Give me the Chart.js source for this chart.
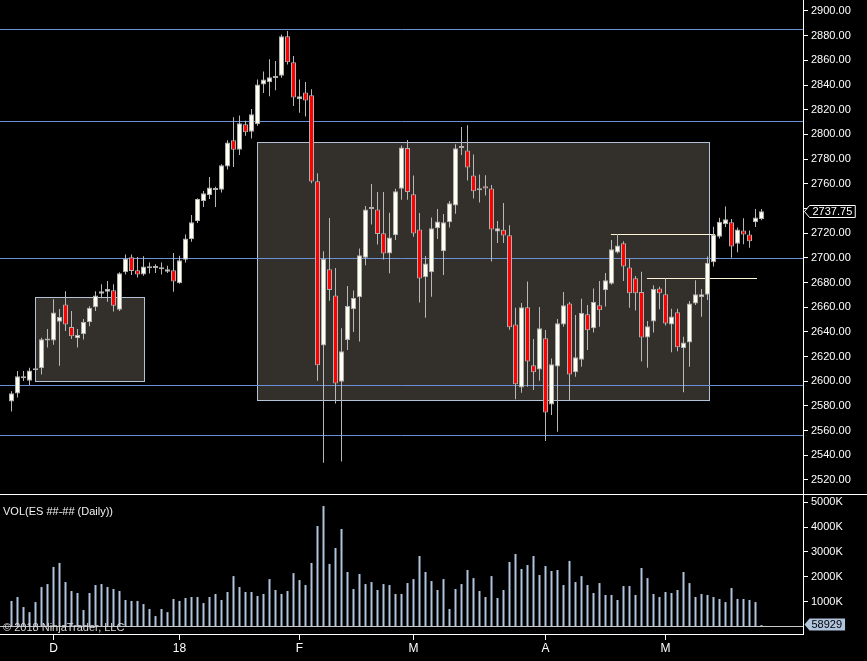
<!DOCTYPE html>
<html lang="en">
<head>
<meta charset="UTF-8">
<title>ES Daily</title>
<script src="https://cdn.jsdelivr.net/npm/chart.js"></script>
<style>
  html, body { margin: 0; padding: 0; background: #000; }
  #wrap { position: relative; width: 867px; height: 661px; }
</style>
</head>
<body>
<div id="wrap"><canvas id="chart" width="867" height="661"></canvas></div>
<script>
// daily bars, oldest first
const opens = [
  2583.5, 2590, 2604, 2600.5, 2609, 2610.5, 2633, 2633, 2648.25, 2662.25,
  2644, 2634.75, 2638, 2647.75, 2660, 2671, 2672.5, 2673.75, 2658, 2688.25,
  2700.5, 2690, 2686.5, 2691.5, 2691.75, 2692, 2688.75, 2690, 2679.5, 2698.5,
  2715.25, 2729.75, 2746, 2751, 2755, 2755.25, 2774, 2795.25, 2787.5, 2808.25,
  2802.25, 2808.25, 2840.5, 2842.25, 2845.75, 2847.5, 2879.5, 2858.5, 2828.5, 2834,
  2831.75, 2762, 2629, 2690.75, 2669.5, 2599.5, 2633.5, 2658.25, 2668, 2700,
  2739.5, 2739.25, 2720, 2703.5, 2718.25, 2756, 2789, 2751.5, 2723, 2684.25,
  2688.25, 2724, 2705.25, 2728.75, 2742.5, 2789, 2787, 2766.75, 2754.75, 2758,
  2756.25, 2721.25, 2722.75, 2718.25, 2646, 2595, 2660, 2613, 2609.5, 2634.75,
  2581.25, 2612, 2646, 2663, 2607.25, 2617.5, 2654.25, 2643, 2661.5, 2673.75,
  2679, 2704.25, 2711.75, 2692.25, 2683.5, 2672.25, 2635.5, 2648.5, 2675.25, 2670.5,
  2646, 2656, 2626.75, 2631.5, 2663, 2668.25, 2670, 2696.5, 2717, 2727.25,
  2728.75, 2711.5, 2722.25, 2719, 2728.75, 2731.5
];
const highs = [
  2592, 2608.25, 2608.25, 2611, 2610.5, 2635.25, 2642.25, 2666.5, 2658.5, 2673,
  2657, 2642.25, 2650.5, 2660.75, 2673, 2678.5, 2681.25, 2678.5, 2688.25, 2702.75,
  2702.75, 2700.75, 2701.25, 2696.25, 2694.75, 2696.25, 2693.5, 2704, 2701.75, 2719,
  2734.75, 2748.25, 2754.25, 2765.5, 2757.5, 2775.75, 2795.25, 2814, 2815.25, 2811,
  2820.5, 2844.5, 2851, 2861, 2859.5, 2881, 2883.75, 2863.5, 2844.5, 2842.5,
  2836.5, 2768.5, 2705.25, 2732.25, 2691.75, 2643, 2677.25, 2673.5, 2707.5, 2742,
  2759.75, 2753.25, 2753.25, 2736.5, 2756, 2791, 2795.5, 2766.75, 2736.25, 2701.5,
  2732.75, 2739.5, 2735.5, 2746, 2792, 2806, 2807.5, 2783.75, 2767.5, 2767,
  2759, 2729.75, 2744.5, 2726.5, 2659.5, 2663.5, 2680.75, 2634.25, 2660.25, 2641.5,
  2618.5, 2650.5, 2672.25, 2664.25, 2653.75, 2666.75, 2661.75, 2675.25, 2681.25, 2687.75,
  2714.5, 2719.25, 2713.5, 2699, 2685.25, 2688.75, 2648.75, 2677.75, 2676.5, 2683.5,
  2658.75, 2658.75, 2636, 2665, 2681.75, 2674.75, 2701, 2725.25, 2732.5, 2741.5,
  2731.5, 2724.5, 2732, 2722.25, 2739.5, 2739.5
];
const lows = [
  2575.5, 2586.75, 2600.25, 2597, 2608, 2605.5, 2627.25, 2629.5, 2612.5, 2640.75,
  2634.25, 2627.25, 2633.75, 2644.5, 2657, 2667.25, 2664.5, 2656.5, 2657, 2686.5,
  2686, 2684, 2685.5, 2687.25, 2687.75, 2686.5, 2687.75, 2672.5, 2679, 2696.25,
  2713, 2728.25, 2741.25, 2747.75, 2741.25, 2753, 2771.5, 2773.5, 2783.25, 2799,
  2796.75, 2807, 2833.5, 2831, 2835.75, 2846, 2856.75, 2823, 2817.5, 2814.5,
  2760.5, 2600.5, 2534, 2665.25, 2582, 2535, 2625.25, 2640, 2632.25, 2694,
  2727, 2710.75, 2698.75, 2687.5, 2714.5, 2747, 2747, 2717, 2663.75, 2651.5,
  2668.5, 2715.25, 2686, 2724.5, 2735.75, 2783.25, 2762.75, 2748, 2744.75, 2750.5,
  2697, 2712, 2712, 2641.75, 2585.5, 2590.75, 2595.5, 2593, 2600.5, 2551.5,
  2572.75, 2559, 2644.25, 2584.75, 2603.75, 2611.75, 2625.25, 2639.5, 2644.25, 2660.5,
  2678.25, 2703.5, 2681.25, 2659.5, 2657.25, 2616, 2611, 2639.5, 2658.25, 2645.25,
  2623.5, 2624.25, 2591, 2611.75, 2661.75, 2652.25, 2665.75, 2693, 2715.75, 2725,
  2700, 2704.5, 2711, 2708.25, 2725, 2730.5
];
const closes = [
  2590.25, 2604, 2602.5, 2608.75, 2609.5, 2634, 2633.5, 2655.75, 2652, 2646,
  2636.5, 2637.5, 2648, 2659.5, 2669.5, 2673, 2674.75, 2661.25, 2687.5, 2699.5,
  2689.25, 2686.5, 2693, 2692.5, 2692.25, 2690.75, 2690.75, 2680.75, 2698, 2715.75,
  2728.75, 2747.75, 2752.25, 2757, 2755.5, 2775, 2793.5, 2787.5, 2809, 2801.75,
  2816.25, 2840.5, 2844.5, 2846.25, 2846.25, 2879.5, 2858.5, 2830, 2831, 2827.5,
  2761.75, 2613, 2699.25, 2674, 2598.25, 2624.25, 2661, 2667.5, 2702, 2739.25,
  2740.25, 2719.25, 2703.5, 2716.5, 2754, 2789.5, 2753.25, 2719.75, 2683.25, 2695.5,
  2724, 2729.5, 2728.75, 2744.25, 2788.75, 2789.5, 2773.25, 2754, 2755.25, 2756.25,
  2723, 2724, 2718, 2643.75, 2597.5, 2660, 2616, 2607.25, 2643, 2574.75,
  2613.75, 2647, 2661.5, 2605.5, 2619.5, 2655.25, 2641.25, 2664.25, 2657.5, 2681.75,
  2707, 2710, 2693, 2671.25, 2671.25, 2635.5, 2644.5, 2674.75, 2671.25, 2646.75,
  2652.5, 2627.5, 2631.5, 2663, 2670.5, 2670.5, 2696, 2719, 2729.25, 2731.25,
  2709.25, 2723, 2719, 2713.5, 2732.75, 2737.75
];
// volume in thousands of contracts
const volumesK = [
  1030, 1190, 785, 580, 985, 1590, 1710, 2400, 2560, 1790,
  1430, 1350, 665, 1350, 1670, 1710, 1590, 1510, 1430, 1070,
  1030, 1030, 905, 705, 420, 705, 580, 1110, 1030, 1150,
  1190, 1190, 945, 1190, 1310, 1070, 1390, 2030, 1590, 1390,
  1390, 1230, 1310, 1910, 1470, 1310, 1430, 2150, 1870, 1670,
  2560, 4045, 4850, 2520, 3160, 3925, 2195, 1510, 2115, 1710,
  1790, 1470, 1710, 1670, 1310, 1310, 1750, 1910, 2840, 2195,
  1830, 1470, 1910, 705, 1510, 1710, 2275, 1950, 1430, 1190,
  2030, 1150, 1470, 2600, 2920, 2315, 2475, 2840, 2075, 2435,
  2235, 2275, 1670, 2640, 1790, 2030, 1670, 1350, 1750, 1270,
  1270, 1070, 1630, 1630, 1270, 2355, 1950, 1310, 1190, 1390,
  1350, 1470, 2195, 1750, 1190, 1310, 1270, 1190, 1110, 985,
  1550, 1110, 1110, 1070, 985, 58.929
];

// month marks on the time axis (bar number -> label)
const monthBars = [8, 29, 49, 68, 90, 110];
const monthText = ['D', '18', 'F', 'M', 'A', 'M'];
const priceTicks = [2520, 2540, 2560, 2580, 2600, 2620, 2640, 2660, 2680, 2700,
  2720, 2740, 2760, 2780, 2800, 2820, 2840, 2860, 2880, 2900];
const volTicks = [1000, 2000, 3000, 4000, 5000];

// drawings: rectangles (bar from, bar to, price top, price bottom)
const zoneFrom = [4.92, 41.97];
const zoneTo = [23.13, 117.2];
const zoneTop = [2668, 2793.6];
const zoneBottom = [2600, 2584.6];
// full width horizontal lines
const levels = [2885.2, 2810.9, 2700, 2597, 2556.4];
// short rays
const rayFrom = [100.9, 106.9];
const rayTo = [118.25, 125.25];
const rayLevel = [2719.3, 2683.6];

const FONT = '"Liberation Sans", Arial, sans-serif';
Chart.defaults.font.family = FONT;

const bars = opens.map((_, i) => i + 1);
const up = bars.map((_, i) => closes[i] >= opens[i]);
const lastClose = closes[closes.length - 1];

const noPad = s => { s.paddingTop = 0; s.paddingBottom = 0; s.paddingLeft = 0; s.paddingRight = 0; };

const overlay = {
  id: 'overlay',
  beforeDatasetsDraw(chart) {
    const { ctx, chartArea: a, scales: { x, y } } = chart;
    ctx.save();
    ctx.lineWidth = 1;
    // rectangles
    for (let i = 0; i < zoneFrom.length; i++) {
      const x1 = Math.round(x.getPixelForValue(zoneFrom[i])) + 0.5;
      const x2 = Math.round(x.getPixelForValue(zoneTo[i])) + 0.5;
      const y1 = Math.round(y.getPixelForValue(zoneTop[i])) + 0.5;
      const y2 = Math.round(y.getPixelForValue(zoneBottom[i])) + 0.5;
      ctx.fillStyle = '#332f2b';
      ctx.fillRect(x1, y1, x2 - x1, y2 - y1);
      ctx.strokeStyle = '#b4c2d8';
      ctx.strokeRect(x1, y1, x2 - x1, y2 - y1);
    }
    // horizontal lines
    ctx.strokeStyle = '#6d8fd8';
    levels.forEach(v => {
      const py = Math.round(y.getPixelForValue(v)) + 0.5;
      ctx.beginPath(); ctx.moveTo(a.left, py); ctx.lineTo(a.right, py); ctx.stroke();
    });
    ctx.strokeStyle = '#fff4d6';
    for (let i = 0; i < rayFrom.length; i++) {
      const py = Math.round(y.getPixelForValue(rayLevel[i])) + 0.5;
      ctx.beginPath();
      ctx.moveTo(x.getPixelForValue(rayFrom[i]), py);
      ctx.lineTo(x.getPixelForValue(rayTo[i]), py);
      ctx.stroke();
    }
    ctx.restore();
  },
  afterDraw(chart) {
    const { ctx, chartArea: a, scales: { y, yVol } } = chart;
    ctx.save();
    // volume zero line
    ctx.fillStyle = '#c8c8c8';
    ctx.fillRect(a.left, Math.round(yVol.getPixelForValue(0)) - 1, a.right - a.left, 1);
    // panel separator
    ctx.fillStyle = '#ffffff';
    ctx.fillRect(0, Math.round(y.bottom), chart.width, 1);

    ctx.font = '11px ' + FONT;
    ctx.textBaseline = 'middle';
    // last price tag
    let txt = lastClose.toFixed(2);
    let w = ctx.measureText(txt).width;
    let py = Math.round(y.getPixelForValue(lastClose)) + 0.5;
    let x0 = a.right + 1.5;
    ctx.beginPath();
    ctx.moveTo(x0, py); ctx.lineTo(x0 + 5, py - 6); ctx.lineTo(x0 + w + 11, py - 6);
    ctx.lineTo(x0 + w + 11, py + 6); ctx.lineTo(x0 + 5, py + 6); ctx.closePath();
    ctx.fillStyle = '#000'; ctx.fill();
    ctx.strokeStyle = '#fff'; ctx.lineWidth = 1; ctx.stroke();
    ctx.fillStyle = '#fff';
    ctx.fillText(txt, x0 + 8, py + 0.5);

    // last volume tag
    const lastV = volumesK[volumesK.length - 1];
    txt = String(Math.round(lastV * 1000));
    w = ctx.measureText(txt).width;
    py = Math.round(yVol.getPixelForValue(lastV)) - 0.5;
    ctx.beginPath();
    ctx.moveTo(x0, py); ctx.lineTo(x0 + 5, py - 6); ctx.lineTo(x0 + w + 10, py - 6);
    ctx.lineTo(x0 + w + 10, py + 6); ctx.lineTo(x0 + 5, py + 6); ctx.closePath();
    ctx.fillStyle = '#b0c4de'; ctx.fill();
    ctx.fillStyle = '#000';
    ctx.fillText(txt, x0 + 7, py + 0.5);

    // panel titles
    ctx.fillStyle = '#f2f2f2';
    ctx.fillText('VOL(ES ##-## (Daily))', 3, 512);
    ctx.fillStyle = '#d8d8d8';
    ctx.fillText('\u00a9 2018 NinjaTrader, LLC', 3, 628);
    ctx.restore();
  }
};

new Chart(document.getElementById('chart'), {
  type: 'bar',
  data: {
    datasets: [
      {
        label: 'body',
        data: bars.map((b, i) => ({ x: b, y: [opens[i], closes[i]] })),
        backgroundColor: up.map(u => u ? '#fffff2' : '#ff0000'),
        borderColor: '#b0b0b0',
        borderWidth: 1,
        borderSkipped: false,
        barThickness: 5,
        minBarLength: 2,
        inflateAmount: 0,
        grouped: false,
        yAxisID: 'y'
      },
      {
        label: 'wick',
        data: bars.map((b, i) => ({ x: b, y: [lows[i], highs[i]] })),
        backgroundColor: '#b8b8b8',
        barThickness: 1,
        inflateAmount: 0,
        grouped: false,
        yAxisID: 'y'
      },
      {
        label: 'volume',
        data: bars.map((b, i) => ({ x: b, y: volumesK[i] })),
        backgroundColor: '#b0c4de',
        barThickness: 2,
        inflateAmount: 0,
        grouped: false,
        yAxisID: 'yVol'
      }
    ]
  },
  options: {
    responsive: false,
    animation: false,
    devicePixelRatio: 1,
    events: [],
    layout: { padding: 0 },
    plugins: { legend: { display: false }, tooltip: { enabled: false } },
    scales: {
      x: {
        type: 'linear',
        position: 'bottom',
        min: 1 - 11.5 / 6,
        max: 1 - 11.5 / 6 + 803 / 6,
        offset: false,
        afterBuildTicks: s => { s.ticks = monthBars.map(v => ({ value: v })); },
        afterFit: s => { s.height = 27; noPad(s); },
        ticks: {
          color: '#ffffff', font: { size: 12 }, padding: 1,
          maxRotation: 0, autoSkip: false,
          callback: (v, i) => monthText[i]
        },
        grid: { offset: false, drawOnChartArea: false, color: '#ffffff', tickLength: 6 },
        border: { color: '#ffffff' }
      },
      y: {
        type: 'linear',
        position: 'right',
        stack: 'panes',
        stackWeight: 494,
        min: 2508.65,
        max: 2908.91,
        afterBuildTicks: s => { s.ticks = priceTicks.map(v => ({ value: v })); },
        afterFit: s => { s.width = 64; noPad(s); },
        ticks: {
          color: '#ffffff', font: { size: 11 }, padding: 3, autoSkip: false,
          // the label under the last-price tag is hidden
          callback: v => Math.abs(v - lastClose) < 6 ? '' : v.toFixed(2)
        },
        grid: { drawOnChartArea: false, color: '#ffffff', tickLength: 5 },
        border: { color: '#ffffff' }
      },
      yVol: {
        type: 'linear',
        position: 'right',
        stack: 'panes',
        stackWeight: 140,
        min: -300,
        max: 5334,
        afterBuildTicks: s => { s.ticks = volTicks.map(v => ({ value: v })); },
        afterFit: s => { s.width = 64; noPad(s); },
        ticks: { color: '#ffffff', font: { size: 11 }, padding: 3, autoSkip: false, callback: v => v + 'K' },
        grid: { drawOnChartArea: false, color: '#ffffff', tickLength: 5 },
        border: { color: '#ffffff' }
      }
    }
  },
  plugins: [overlay]
});
</script>
</body>
</html>
